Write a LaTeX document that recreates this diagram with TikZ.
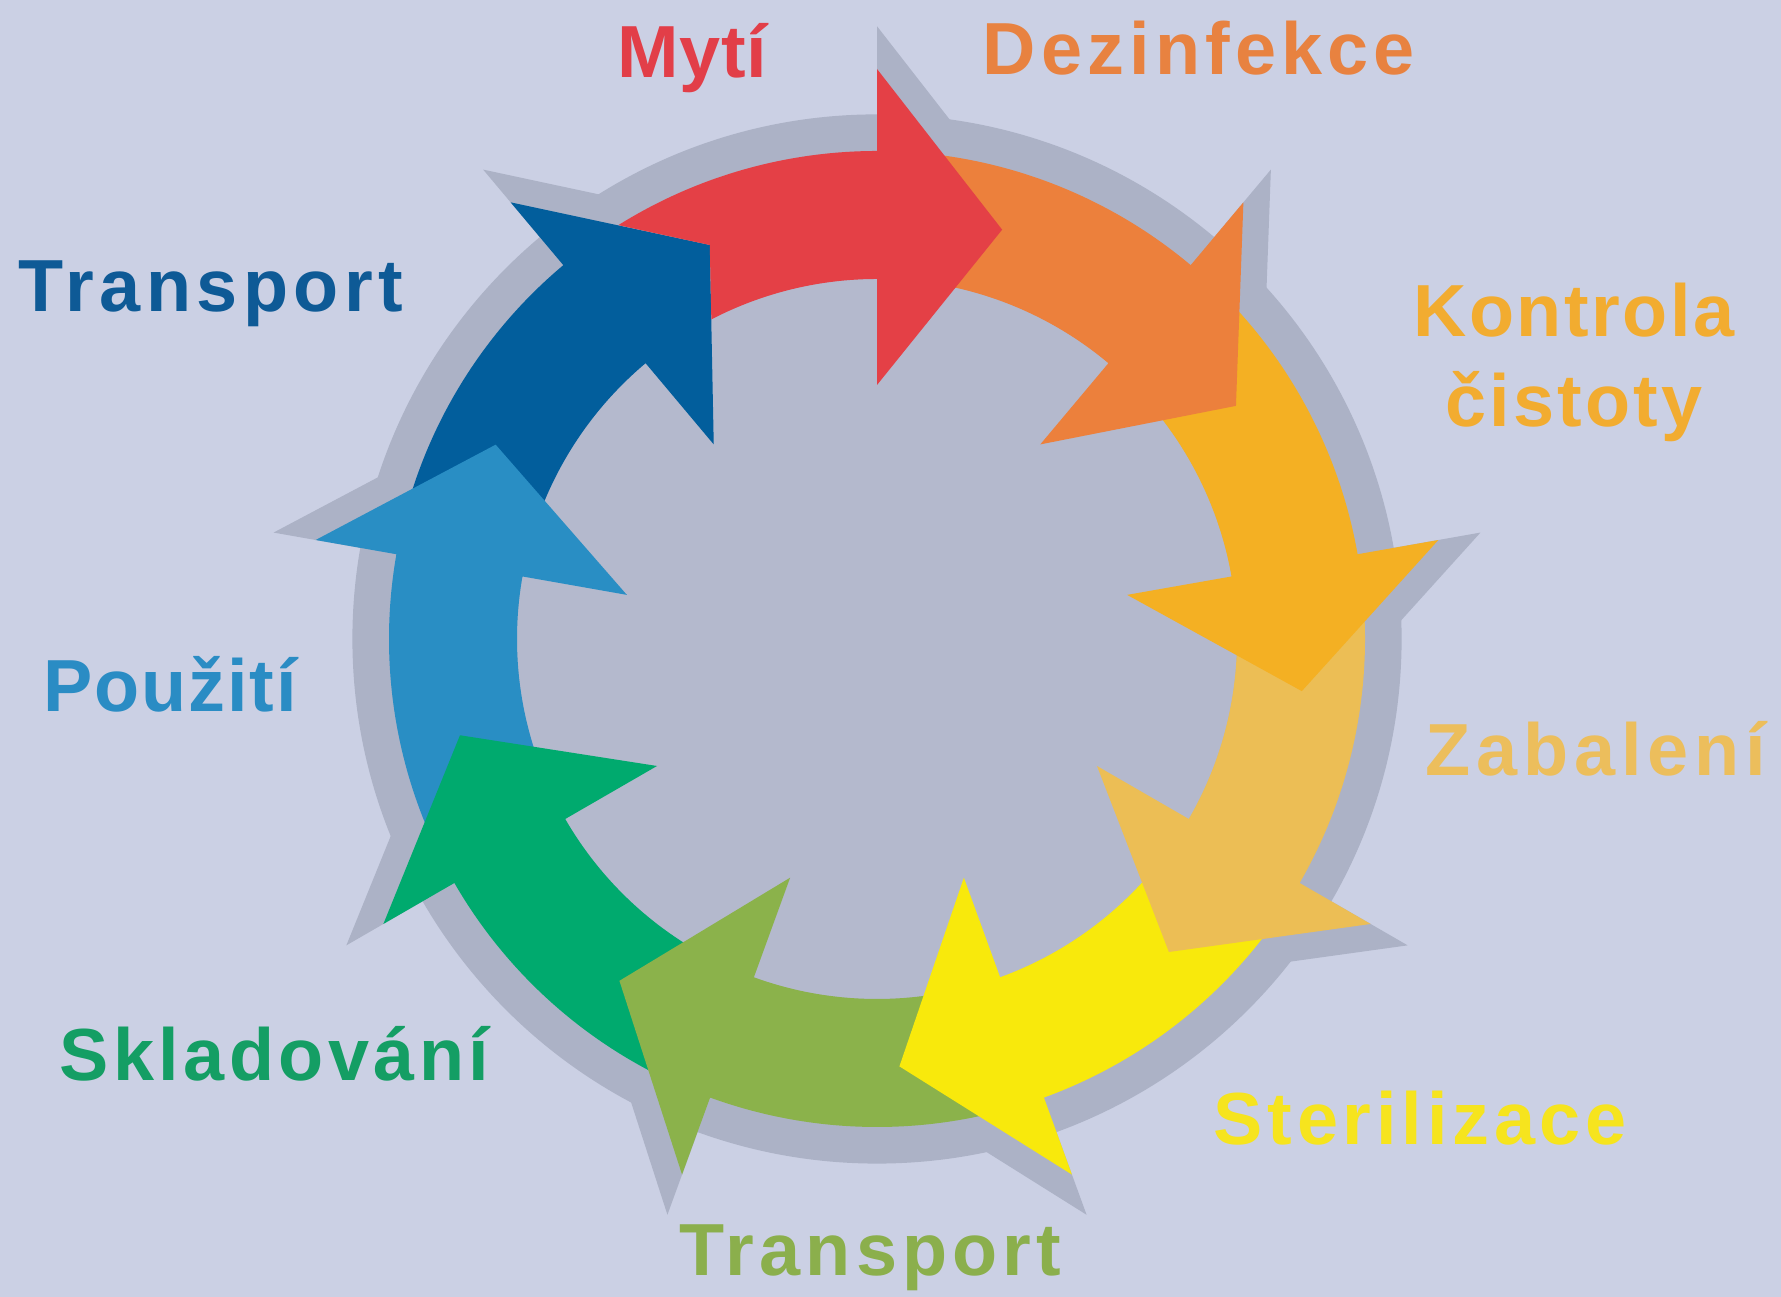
\documentclass[tikz,border=0pt]{standalone}
\usepackage{fontspec}
\newfontfamily\lblfont{Liberation Sans}
\definecolor{bg}{RGB}{203,208,228}
\definecolor{shd}{RGB}{172,178,198}
\definecolor{disk}{RGB}{180,185,205}
\definecolor{cRed}{RGB}{228,64,70}
\definecolor{cOrange}{RGB}{236,128,60}
\definecolor{cKontrola}{RGB}{244,176,35}
\definecolor{cZabal}{RGB}{236,190,85}
\definecolor{cYellow}{RGB}{248,233,12}
\definecolor{cOlive}{RGB}{139,178,75}
\definecolor{cGreen}{RGB}{0,170,110}
\definecolor{cLBlue}{RGB}{41,142,196}
\definecolor{cDBlue}{RGB}{2,94,156}
\definecolor{tRed}{RGB}{226,62,72}
\definecolor{tOrange}{RGB}{232,130,64}
\definecolor{tKontrola}{RGB}{242,172,48}
\definecolor{tZabal}{RGB}{236,190,92}
\definecolor{tYellow}{RGB}{246,228,30}
\definecolor{tOlive}{RGB}{139,175,76}
\definecolor{tGreen}{RGB}{20,158,100}
\definecolor{tLBlue}{RGB}{42,140,196}
\definecolor{tDBlue}{RGB}{14,90,150}
\tikzset{
  lbl/.style={font=\lblfont\bfseries\fontsize{21}{25}\selectfont\addfontfeature{LetterSpace=#1},
    inner sep=0pt, anchor=base west},
  lbl/.default=7,
  lblc/.style={lbl=#1, anchor=base},
  lblc/.default=7
}
\begin{document}
\begin{tikzpicture}
\fill[bg] (0,0) rectangle (17.81,12.97);
\useasboundingbox (0,0) rectangle (17.81,12.97);
\begin{scope}[shift={(8.77,6.58)}]
  % shadow: enlarged copy of the ring with its arrowheads
  \begin{scope}[scale=1.075]
    \fill[shd] (0,0) circle[radius=4.88];
    \foreach \t in {90,50,...,-230}
      \fill[shd] (\t:5.70) -- (\t-17:4.28) -- (\t:2.54) -- cycle;
  \end{scope}
  \fill[disk] (0,0) circle[radius=3.60];
  % arrows, drawn so that each head lies on the next tail
  \foreach \t/\c in {130/cDBlue,170/cLBlue,210/cGreen,250/cOlive,290/cYellow,330/cZabal,370/cKontrola,410/cOrange} {
    \fill[\c] (\t+40:4.88) arc[start angle=\t+40, end angle=\t, radius=4.88]
      -- (\t:5.70) -- (\t-17:4.28) -- (\t:2.54) -- (\t:3.60)
      arc[start angle=\t, end angle=\t+40, radius=3.60] -- cycle;
  }
  \fill[cRed] (122:4.88) arc[start angle=122, end angle=90, radius=4.88]
    -- (90:5.70) -- (73:4.28) -- (90:2.54) -- (90:3.60)
    arc[start angle=90, end angle=117.4, radius=3.60] -- (113:4.28) -- cycle;
\end{scope}
\node[lbl=1, text=tRed] (myti) at (6.17,12.19) {Mytí};
\node[lbl=7, text=tOrange] (dezinfekce) at (9.82,12.22) {Dezinfekce};
\node[lblc=3.5, text=tKontrola] (kontrola) at (15.74,9.60) {Kontrola};
\node[lblc=4.5, text=tKontrola] (cistoty) at (15.74,8.70) {čistoty};
\node[lbl=8, text=tZabal] (zabaleni) at (14.25,5.21) {Zabalení};
\node[lbl=6.5, text=tYellow] (sterilizace) at (12.13,1.52) {Sterilizace};
\node[lbl=7, text=tOlive] (transport2) at (6.79,0.21) {Transport};
\node[lbl=6, text=tGreen] (skladovani) at (0.59,2.16) {Skladování};
\node[lbl=2.5, text=tLBlue] (pouziti) at (0.43,5.85) {Použití};
\node[lbl=7.5, text=tDBlue] (transport1) at (0.18,9.85) {Transport};
\end{tikzpicture}
\end{document}
